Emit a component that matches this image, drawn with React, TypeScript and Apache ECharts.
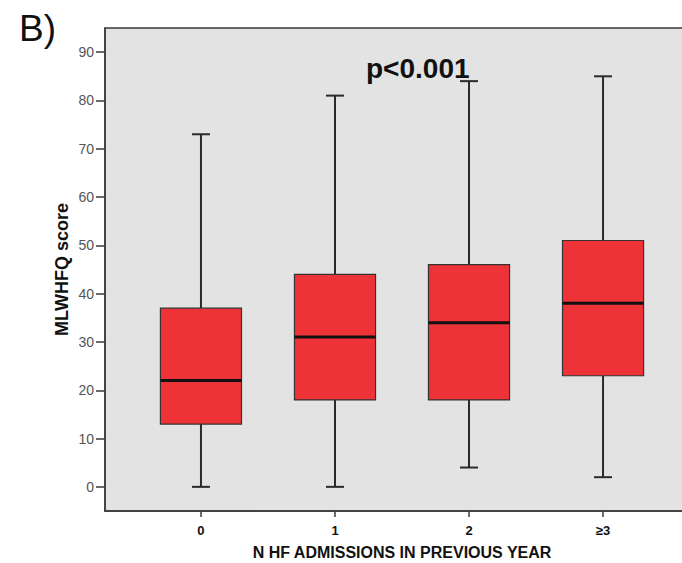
import React, { useEffect, useRef } from 'react';
import * as echarts from 'echarts';

const categories = ['0', '1', '2', '≥3'];
const whiskerMin = [0, 0, 4, 2];
const q1 = [13, 18, 18, 23];
const median = [22, 31, 34, 38];
const q3 = [37, 44, 46, 51];
const whiskerMax = [73, 81, 84, 85];
const yTicks = [0, 10, 20, 30, 40, 50, 60, 70, 80, 90];
const xTicks = [0, 1, 2, 3];

const FONT = '"Liberation Sans", Arial, sans-serif';

export default function App() {
  const ref = useRef<HTMLDivElement>(null);
  useEffect(() => {
    if (!ref.current) return;
    const chart = echarts.init(ref.current, undefined, { renderer: 'svg' });
    const data = categories.map((_, i) => [i, whiskerMin[i], q1[i], median[i], q3[i], whiskerMax[i]]);
    chart.setOption({
      animation: false,
      backgroundColor: '#ffffff',
      grid: {
        left: 105,
        top: 28,
        width: 594,
        height: 483,
        show: true,
        outerBoundsMode: 'none',
        containLabel: false,
        backgroundColor: '#e3e3e3',
        borderColor: '#3a3a3a',
        borderWidth: 1.5,
      },
      xAxis: {
        type: 'value',
        min: -0.716,
        max: 3.716,
        name: 'N HF ADMISSIONS IN PREVIOUS YEAR',
        nameLocation: 'middle',
        nameGap: 33,
        nameMoveOverlap: false,
        nameTextStyle: { fontFamily: FONT, fontWeight: 'bold', fontSize: 16, color: '#111' },
        splitLine: { show: false },
        axisLine: { show: true, onZero: false, lineStyle: { color: '#3a3a3a', width: 1.5 } },
        axisTick: { show: true, customValues: xTicks, length: 6, lineStyle: { color: '#3a3a3a', width: 1.5 } },
        axisLabel: {
          customValues: xTicks,
          formatter: (v: number) => categories[Math.round(v)] ?? '',
          fontFamily: FONT,
          fontWeight: 'bold',
          fontSize: 13,
          color: '#111',
          margin: 13,
        },
      },
      yAxis: {
        type: 'value',
        min: -5,
        max: 95,
        name: 'MLWHFQ score',
        nameLocation: 'middle',
        nameGap: 34,
        nameRotate: 90,
        nameMoveOverlap: false,
        nameTextStyle: { fontFamily: FONT, fontWeight: 'bold', fontSize: 18, color: '#111' },
        splitLine: { show: false },
        axisLine: { show: true, onZero: false, lineStyle: { color: '#3a3a3a', width: 1.5 } },
        axisTick: { show: true, customValues: yTicks, length: 9, lineStyle: { color: '#3a3a3a', width: 1.5 } },
        axisLabel: {
          customValues: yTicks,
          fontFamily: FONT,
          fontSize: 14,
          color: '#555',
          margin: 11,
        },
      },
      graphic: [
        { type: 'text', x: 19, y: 10, style: { text: 'B)', fontFamily: FONT, fontSize: 37, fill: '#111' } },
        {
          type: 'text',
          x: 366,
          y: 68,
          style: { text: 'p<0.001', fontFamily: FONT, fontWeight: 'bold', fontSize: 28, fill: '#111', verticalAlign: 'middle' },
        },
      ],
      series: [
        {
          type: 'custom',
          data,
          encode: { x: 0, y: [1, 2, 3, 4, 5] },
          renderItem: (params: any, api: any) => {
            const x = api.value(0);
            const pMin = api.coord([x, api.value(1)]);
            const pQ1 = api.coord([x, api.value(2)]);
            const pMed = api.coord([x, api.value(3)]);
            const pQ3 = api.coord([x, api.value(4)]);
            const pMax = api.coord([x, api.value(5)]);
            const cx = pMin[0];
            const bw = api.size([1, 0])[0] * 0.605;
            const cap = 9;
            const stroke = '#2a2a2a';
            return {
              type: 'group',
              children: [
                { type: 'line', shape: { x1: cx, y1: pMax[1], x2: cx, y2: pQ3[1] }, style: { stroke, lineWidth: 2 } },
                { type: 'line', shape: { x1: cx, y1: pQ1[1], x2: cx, y2: pMin[1] }, style: { stroke, lineWidth: 2 } },
                { type: 'line', shape: { x1: cx - cap, y1: pMax[1], x2: cx + cap, y2: pMax[1] }, style: { stroke, lineWidth: 2 } },
                { type: 'line', shape: { x1: cx - cap, y1: pMin[1], x2: cx + cap, y2: pMin[1] }, style: { stroke, lineWidth: 2 } },
                {
                  type: 'rect',
                  shape: { x: cx - bw / 2, y: pQ3[1], width: bw, height: pQ1[1] - pQ3[1] },
                  style: { fill: '#ee3338', stroke: '#333', lineWidth: 1.2 },
                },
                { type: 'line', shape: { x1: cx - bw / 2, y1: pMed[1], x2: cx + bw / 2, y2: pMed[1] }, style: { stroke: '#111', lineWidth: 3 } },
              ],
            };
          },
        },
      ],
    });
    return () => chart.dispose();
  }, []);
  return <div ref={ref} style={{ position: 'fixed', left: 0, top: 0, width: 682, height: 563 }} />;
}
